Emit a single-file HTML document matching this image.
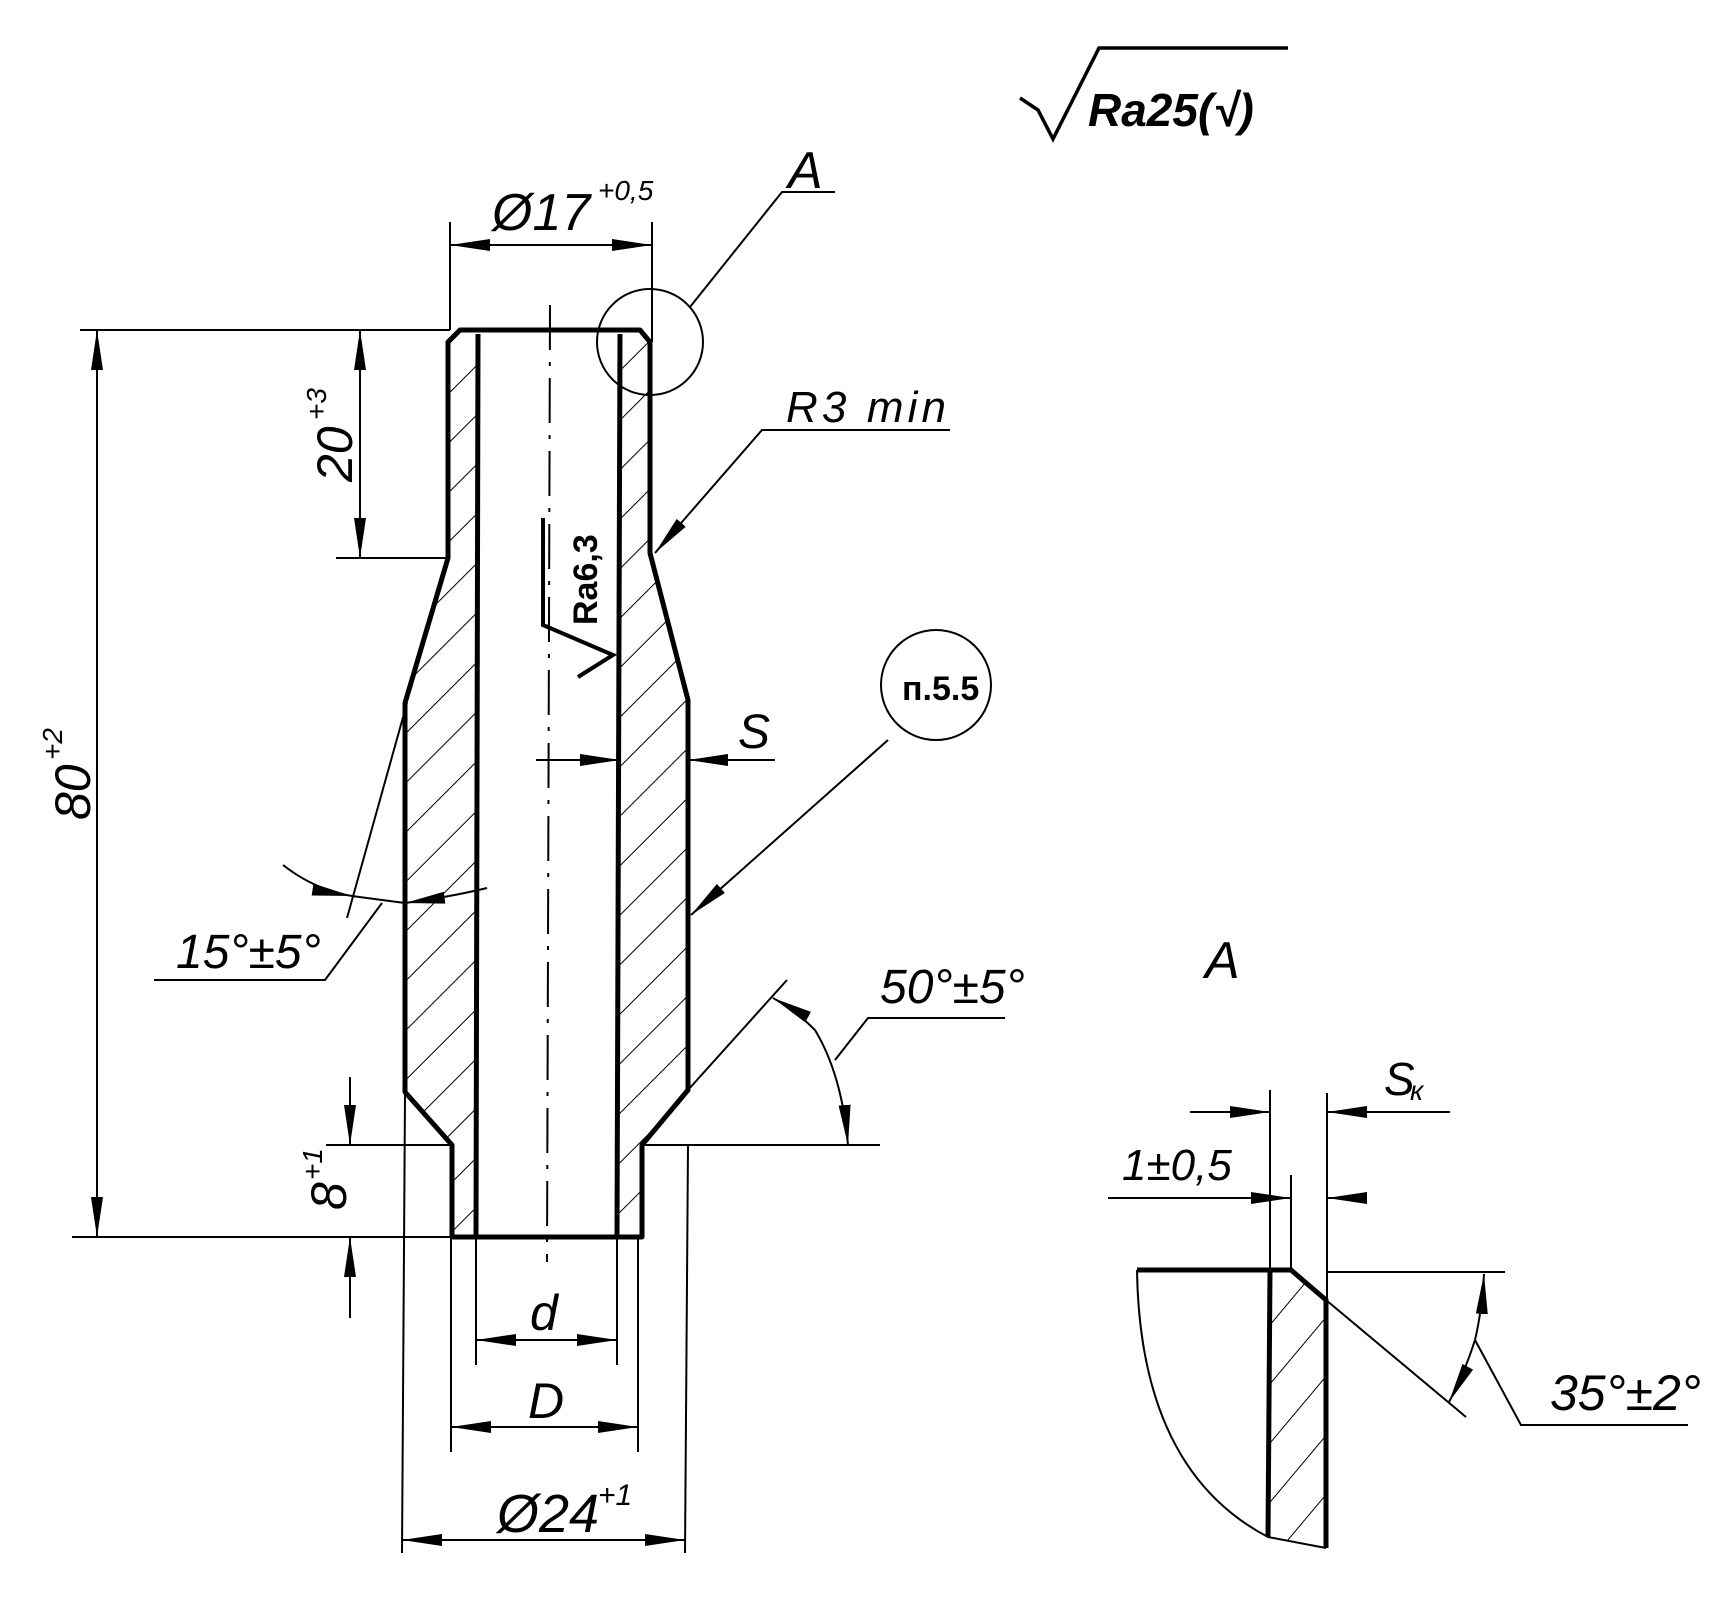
<!DOCTYPE html>
<html><head><meta charset="utf-8"><style>
html,body{margin:0;padding:0;background:#fff}
svg{display:block}
text{font-family:"Liberation Sans",sans-serif;font-style:italic;fill:#000}
</style></head><body>
<svg width="1714" height="1608" viewBox="0 0 1714 1608" xmlns="http://www.w3.org/2000/svg">
<defs>
<pattern id="h" patternUnits="userSpaceOnUse" width="35" height="35" patternTransform="rotate(45)">
<line x1="0" y1="0" x2="0" y2="35" stroke="#000" stroke-width="2"/>
</pattern>
<pattern id="h2" patternUnits="userSpaceOnUse" width="38" height="38" patternTransform="rotate(40)">
<line x1="0" y1="0" x2="0" y2="38" stroke="#000" stroke-width="2"/>
</pattern>
<marker id="a" viewBox="0 0 40 12" refX="40" refY="6" markerWidth="40" markerHeight="12" markerUnits="userSpaceOnUse" orient="auto-start-reverse">
<path d="M0,0 L40,6 L0,12 z" fill="#000"/>
</marker>
</defs>
<g fill="none" stroke="#000">
<!-- walls hatched -->
<path d="M458,330 L478,330 L478,1237 L452,1237 L452,1145 L405,1092 L405,703 L448,558 L448,342 Z" fill="url(#h)" stroke="none"/>
<path d="M620,330 L640,330 L650,342 L650,553 L688,700 L688,1090 L642,1145 L642,1237 L617,1237 Z" fill="url(#h)" stroke="none"/>
<!-- outer contour -->
<path d="M452,1237 L452,1145 L405,1092 L405,703 L448,558 L448,342 L460,330 L640,330 L650,342 L650,553 L688,700 L688,1090 L642,1145 L642,1237 Z" stroke-width="5" stroke-linejoin="round"/>
<line x1="478" y1="334" x2="476" y2="1237" stroke-width="5"/>
<line x1="620" y1="334" x2="617" y2="1237" stroke-width="5"/>
<!-- centerline -->
<line x1="550" y1="305" x2="547" y2="1262" stroke-width="2" stroke-dasharray="45,12,4,12"/>
<g stroke-width="2">
<!-- Ø17 -->
<line x1="450" y1="222" x2="450" y2="330"/><line x1="652" y1="222" x2="652" y2="342"/>
<line x1="450" y1="245" x2="652" y2="245" marker-start="url(#a)" marker-end="url(#a)"/>
<!-- A leader -->
<circle cx="650" cy="342" r="53"/>
<polyline points="690,307 782,192 835,192"/>
<!-- R3 min -->
<polyline points="950,430 762,430 655,553" marker-end="url(#a)"/>
<!-- 80 -->
<line x1="80" y1="330" x2="450" y2="330"/><line x1="72" y1="1237" x2="452" y2="1237"/>
<line x1="97" y1="330" x2="97" y2="1237" marker-start="url(#a)" marker-end="url(#a)"/>
<!-- 20 -->
<line x1="336" y1="558" x2="448" y2="558"/>
<line x1="360" y1="330" x2="360" y2="558" marker-start="url(#a)" marker-end="url(#a)"/>
<!-- 8 -->
<line x1="326" y1="1145" x2="452" y2="1145"/>
<line x1="350" y1="1077" x2="350" y2="1145" marker-end="url(#a)"/>
<line x1="350" y1="1318" x2="350" y2="1237" marker-end="url(#a)"/>
<!-- S -->
<line x1="536" y1="760" x2="620" y2="760" marker-end="url(#a)"/>
<line x1="775" y1="760" x2="688" y2="760" marker-end="url(#a)"/>
<!-- п.5.5 -->
<circle cx="936" cy="685" r="55"/>
<line x1="888" y1="740" x2="691" y2="915" marker-end="url(#a)"/>
<!-- 15° -->
<line x1="407" y1="703" x2="347" y2="918"/>
<path d="M283,865 Q315,890 352,896" marker-end="url(#a)"/>
<line x1="352" y1="896" x2="405" y2="903"/>
<path d="M487,888 Q450,897 405,903" marker-end="url(#a)"/>
<polyline points="154,980 325,980 382,903"/>
<!-- 50° -->
<line x1="688" y1="1090" x2="787" y2="980"/>
<line x1="645" y1="1145" x2="880" y2="1145"/>
<path d="M815,1030 Q795,1010 773,998" marker-end="url(#a)"/>
<path d="M815,1030 Q842,1075 848,1145" marker-end="url(#a)"/>
<polyline points="835,1060 868,1018 1005,1018"/>
<!-- d -->
<line x1="476" y1="1237" x2="476" y2="1365"/><line x1="617" y1="1237" x2="617" y2="1365"/>
<line x1="476" y1="1340" x2="617" y2="1340" marker-start="url(#a)" marker-end="url(#a)"/>
<!-- D -->
<line x1="451" y1="1237" x2="451" y2="1452"/><line x1="638" y1="1237" x2="638" y2="1452"/>
<line x1="451" y1="1427" x2="638" y2="1427" marker-start="url(#a)" marker-end="url(#a)"/>
<!-- Ø24 -->
<line x1="405" y1="1095" x2="402" y2="1553"/><line x1="688" y1="1145" x2="685" y2="1553"/>
<line x1="402" y1="1540" x2="685" y2="1540" marker-start="url(#a)" marker-end="url(#a)"/>
</g>
<!-- roughness top -->
<polyline points="1020,98 1038,110 1053,139 1099,48 1288,48" stroke-width="3.5"/>
<!-- Ra6,3 symbol -->
<polyline points="543,518 543,625 613,655 578,677" stroke-width="4"/>

<!-- Detail A -->
<path d="M1270,1270 L1291,1270 L1326,1300 L1326,1548 L1268,1537 Z" fill="url(#h2)" stroke="none"/>
<path d="M1137,1270 L1270,1270" stroke-width="5"/>
<path d="M1137,1270 Q1140,1470 1268,1537 L1326,1548" stroke-width="2"/>
<path d="M1268,1537 L1270,1270 L1291,1270 L1326,1300 L1326,1548" stroke-width="5"/>
<g stroke-width="2">
<line x1="1270" y1="1090" x2="1270" y2="1270"/>
<line x1="1327" y1="1093" x2="1327" y2="1300"/>
<line x1="1291" y1="1175" x2="1291" y2="1270"/>
<line x1="1190" y1="1112" x2="1270" y2="1112" marker-end="url(#a)"/>
<line x1="1450" y1="1112" x2="1327" y2="1112" marker-end="url(#a)"/>
<line x1="1108" y1="1198" x2="1291" y2="1198" marker-end="url(#a)"/>
<line x1="1360" y1="1198" x2="1327" y2="1198" marker-end="url(#a)"/>
<line x1="1326" y1="1272" x2="1505" y2="1272"/>
<line x1="1326" y1="1300" x2="1466" y2="1417"/>
<path d="M1475,1340 Q1482,1310 1484,1274" marker-end="url(#a)"/>
<path d="M1475,1340 Q1465,1372 1449,1402" marker-end="url(#a)"/>
<polyline points="1475,1340 1521,1425 1688,1425"/>
</g>
</g>
<!-- texts -->
<text x="492" y="230" font-size="52">Ø17</text>
<text x="598" y="200" font-size="28">+0,5</text>
<text x="788" y="188" font-size="52">A</text>
<text x="786" y="422" font-size="44" textLength="160">R3  min</text>
<text transform="translate(352,482) rotate(-90)" font-size="50">20</text>
<text transform="translate(326,420) rotate(-90)" font-size="28">+3</text>
<text transform="translate(90,820) rotate(-90)" font-size="50">80</text>
<text transform="translate(62,760) rotate(-90)" font-size="28">+2</text>
<text transform="translate(346,1210) rotate(-90)" font-size="50">8</text>
<text transform="translate(322,1180) rotate(-90)" font-size="28">+1</text>
<text x="738" y="748" font-size="48">S</text>
<text x="902" y="700" font-size="34" font-weight="bold" style="font-style:normal">п.5.5</text>
<text x="176" y="968" font-size="48">15°±5°</text>
<text x="880" y="1003" font-size="48">50°±5°</text>
<text x="530" y="1330" font-size="50">d</text>
<text x="528" y="1418" font-size="50">D</text>
<text x="497" y="1532" font-size="54">Ø24</text>
<text x="598" y="1505" font-size="30">+1</text>
<text x="1088" y="126" font-size="46" font-weight="bold">Ra25(√)</text>
<text transform="translate(597,625) rotate(-90)" font-size="34" font-weight="bold" style="font-style:normal">Ra6,3</text>
<text x="1205" y="978" font-size="52">A</text>
<text x="1384" y="1095" font-size="46">S</text>
<text x="1410" y="1100" font-size="28">к</text>
<text x="1122" y="1180" font-size="44">1±0,5</text>
<text x="1550" y="1410" font-size="50">35°±2°</text>
</svg>
</body></html>
